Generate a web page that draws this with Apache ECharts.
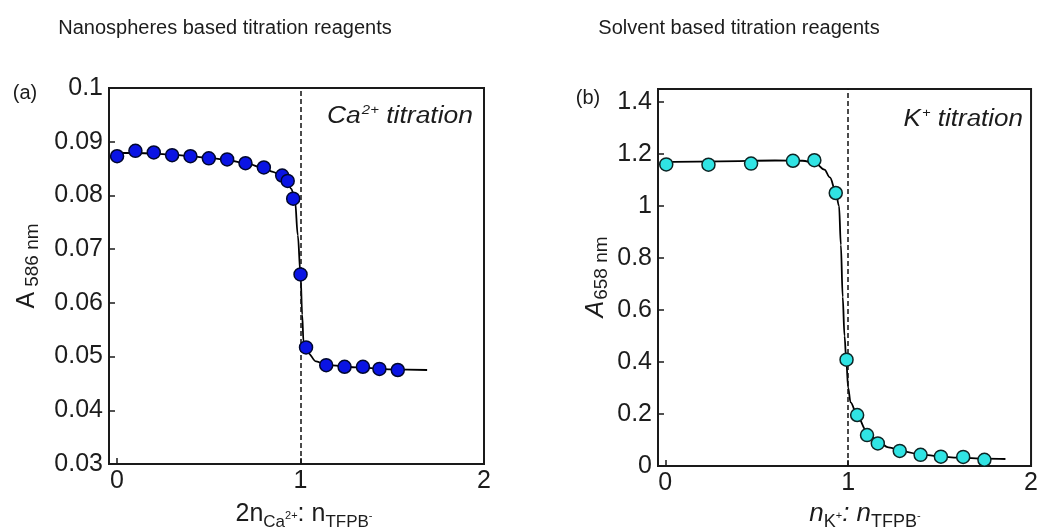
<!DOCTYPE html>
<html>
<head>
<meta charset="utf-8">
<script src="https://cdn.jsdelivr.net/npm/echarts@6/dist/echarts.min.js"></script>
<style>html,body{margin:0;padding:0;background:#fff;}#c{width:1041px;height:530px;}</style>
</head>
<body>
<div id="c"></div>
<script>
// ---- Panel (a): nanospheres, Ca2+ titration ----
const caPointX = [0, 0.1, 0.2, 0.3, 0.4, 0.5, 0.6, 0.7, 0.8, 0.9, 0.93, 0.96, 1.0, 1.03, 1.14, 1.24, 1.34, 1.43, 1.53];
const caPointY = [0.0873, 0.0883, 0.0880, 0.0875, 0.0873, 0.0869, 0.0867, 0.0860, 0.0852, 0.0837, 0.0827, 0.0794, 0.0653, 0.0517, 0.0484, 0.0481, 0.0481, 0.0477, 0.0475];
const caFitX = [0, 0.1, 0.2, 0.3, 0.4, 0.5, 0.6, 0.7, 0.8, 0.85, 0.9, 0.93, 0.95, 0.97, 0.985, 1.0, 1.009, 1.016, 1.04, 1.085, 1.14, 1.3, 1.5, 1.69];
const caFitY = [0.0879, 0.0879, 0.0878, 0.0876, 0.0873, 0.0870, 0.0866, 0.0860, 0.0851, 0.0844, 0.0834, 0.0824, 0.0812, 0.0790, 0.0726, 0.0653, 0.0578, 0.0528, 0.0507, 0.0491, 0.0484, 0.0480, 0.0476, 0.0475];
const caYMin = 0.03, caYMax = 0.1, caYStep = 0.01;
const caXTicks = [0, 1, 2];

// ---- Panel (b): solvent, K+ titration ----
const kPointX = [0.005, 0.236, 0.469, 0.698, 0.815, 0.932, 0.991, 1.049, 1.103, 1.162, 1.282, 1.396, 1.507, 1.629, 1.745];
const kPointY = [1.160, 1.159, 1.163, 1.174, 1.176, 1.050, 0.409, 0.196, 0.119, 0.087, 0.058, 0.043, 0.036, 0.035, 0.024];
const kFitX = [0, 0.3, 0.6, 0.75, 0.82, 0.87, 0.9, 0.93, 0.95, 0.96, 0.97, 0.98, 0.99, 1.0, 1.013, 1.049, 1.1, 1.16, 1.22, 1.3, 1.4, 1.5, 1.6, 1.75, 1.86];
const kFitY = [1.170, 1.172, 1.175, 1.174, 1.165, 1.14, 1.11, 1.06, 1.0, 0.85, 0.65, 0.50, 0.40, 0.30, 0.245, 0.195, 0.135, 0.095, 0.072, 0.056, 0.044, 0.037, 0.032, 0.028, 0.027];
const kYMin = 0, kYMax = 1.45, kYStep = 0.2;
const kXTicks = [0, 1, 2];

const endpoint = 1;

const FONT = '"Liberation Sans", Arial, Helvetica, sans-serif';
const TXT = '#1c1c1c';
const AX = '#1a1a1a';

function pairs(xs, ys) { return xs.map((x, i) => [x, ys[i]]); }

function xAxisCfg(gi, min, max, ticks) {
  return {
    type: 'value', gridIndex: gi, min: min, max: max,
    axisLine: { show: true, onZero: false, lineStyle: { color: AX, width: 2 } },
    splitLine: { show: false },
    axisTick: { show: true, inside: true, length: 6, customValues: ticks, lineStyle: { color: AX, width: 1.5 } },
    axisLabel: { customValues: ticks, fontSize: 25, fontFamily: FONT, color: TXT, margin: 5,
      formatter: v => String(v) }
  };
}
function yAxisCfg(gi, min, max, step, dec) {
  return {
    type: 'value', gridIndex: gi, min: min, max: max, interval: step,
    axisLine: { show: true, onZero: false, lineStyle: { color: AX, width: 2 } },
    splitLine: { show: false },
    axisTick: { show: true, inside: true, length: 6, lineStyle: { color: AX, width: 1.5 } },
    axisLabel: { fontSize: 25, fontFamily: FONT, color: TXT, margin: 6, showMaxLabel: true,
      formatter: v => {
        const k = (v - min) / step;
        if (Math.abs(k - Math.round(k)) > 1e-6) return '';
        return String(+(+v).toFixed(dec));
      } }
  };
}

function txt(x, y, text, opts) {
  opts = opts || {};
  return {
    type: 'text', x: x, y: y, rotation: opts.rotation || 0, scaleX: opts.scaleX || 1, z: 100,
    style: Object.assign({
      text: text, fill: TXT, fontFamily: FONT, fontSize: opts.fontSize || 18,
      fontStyle: opts.fontStyle || 'normal',
      align: opts.align || 'center', verticalAlign: 'middle',
      textAlign: opts.align || 'center', textVerticalAlign: 'middle'
    }, opts.rich ? { rich: opts.rich } : {})
  };
}

const chart = echarts.init(document.getElementById('c'), null, { renderer: 'canvas' });

const option = {
  backgroundColor: '#ffffff',
  animation: false,
  grid: [
    { left: 109, top: 88, width: 375, height: 376, show: true, borderColor: AX, borderWidth: 2, backgroundColor: 'transparent' },
    { left: 658, top: 89, width: 376, height: 377, show: true, borderColor: AX, borderWidth: 2, backgroundColor: 'transparent' }
  ],
  xAxis: [
    xAxisCfg(0, -0.044, 2, caXTicks),
    xAxisCfg(1, -0.04, 2, kXTicks)
  ],
  yAxis: [
    yAxisCfg(0, caYMin, caYMax, caYStep, 2),
    yAxisCfg(1, kYMin, kYMax, kYStep, 1)
  ],
  series: [
    {
      type: 'line', xAxisIndex: 0, yAxisIndex: 0, data: pairs(caFitX, caFitY),
      showSymbol: false, smooth: 0.35, smoothMonotone: 'x', z: 2,
      lineStyle: { color: '#000', width: 1.8 },
      markLine: { silent: true, symbol: ['none', 'none'], label: { show: false },
        lineStyle: { color: '#111', type: [5, 3], width: 1.5 }, data: [{ xAxis: endpoint }] }
    },
    {
      type: 'scatter', xAxisIndex: 0, yAxisIndex: 0, data: pairs(caPointX, caPointY),
      symbol: 'circle', symbolSize: 13, z: 5,
      itemStyle: { color: '#0a14e4', borderColor: '#00072e', borderWidth: 1.5, opacity: 1 }
    },
    {
      type: 'line', xAxisIndex: 1, yAxisIndex: 1, data: pairs(kFitX, kFitY),
      showSymbol: false, smooth: 0.35, smoothMonotone: 'x', z: 2,
      lineStyle: { color: '#000', width: 1.8 },
      markLine: { silent: true, symbol: ['none', 'none'], label: { show: false },
        lineStyle: { color: '#111', type: [5, 3], width: 1.5 }, data: [{ xAxis: endpoint }] }
    },
    {
      type: 'scatter', xAxisIndex: 1, yAxisIndex: 1, data: pairs(kPointX, kPointY),
      symbol: 'circle', symbolSize: 13, z: 5,
      itemStyle: { color: '#30e4e4', borderColor: '#0d2424', borderWidth: 1.5, opacity: 1 }
    }
  ],
  graphic: [
    txt(225, 28, 'Nanospheres based titration reagents', { fontSize: 20 }),
    txt(739, 28, 'Solvent based titration reagents', { fontSize: 20 }),
    txt(25, 93, '(a)', { fontSize: 20 }),
    txt(588, 98, '(b)', { fontSize: 20 }),
    txt(473, 117, '{i|Ca}{p|2+}{i| titration}', { align: 'right', scaleX: 1.15, rich: {
      i: { fontSize: 23, fontStyle: 'italic', fontFamily: FONT, fill: TXT, lineHeight: 30 },
      p: { fontSize: 13, fontStyle: 'italic', fontFamily: FONT, fill: TXT, padding: [0, 0, 14, 1] }
    } }),
    txt(1023, 120, '{i|K}{p|+}{i| titration}', { align: 'right', scaleX: 1.13, rich: {
      i: { fontSize: 23, fontStyle: 'italic', fontFamily: FONT, fill: TXT, lineHeight: 30 },
      p: { fontSize: 13, fontStyle: 'italic', fontFamily: FONT, fill: TXT, padding: [0, 0, 14, 1] }
    } }),
    txt(27, 266, '{a|A}{s|586 nm}', { rotation: Math.PI / 2, rich: {
      a: { fontSize: 25, fontFamily: FONT, fill: TXT, lineHeight: 34 },
      s: { fontSize: 19, fontFamily: FONT, fill: TXT, padding: [12, 0, 0, 5] }
    } }),
    txt(596, 277, '{a|A}{s|658 nm}', { rotation: Math.PI / 2, rich: {
      a: { fontSize: 25, fontStyle: 'italic', fontFamily: FONT, fill: TXT, lineHeight: 34 },
      s: { fontSize: 19, fontFamily: FONT, fill: TXT, padding: [12, 0, 0, 1] }
    } }),
    txt(304, 514, '{a|2n}{s|Ca}{p|2+}{a|: n}{s|TFPB}{p|-}', { rich: {
      a: { fontSize: 25, fontFamily: FONT, fill: TXT, lineHeight: 40 },
      s: { fontSize: 17, fontFamily: FONT, fill: TXT, padding: [16, 0, 0, 0] },
      p: { fontSize: 11, fontFamily: FONT, fill: TXT, padding: [4, 0, 0, 0] }
    } }),
    txt(865, 514, '{i|n}{s|K}{p|+}{i|: n}{s|TFPB}{p|-}', { rich: {
      i: { fontSize: 26, fontStyle: 'italic', fontFamily: FONT, fill: TXT, lineHeight: 40 },
      s: { fontSize: 18, fontFamily: FONT, fill: TXT, padding: [16, 0, 0, 0] },
      p: { fontSize: 11, fontFamily: FONT, fill: TXT, padding: [4, 0, 0, 0] }
    } })
  ]
};
chart.setOption(option);
</script>
</body>
</html>
